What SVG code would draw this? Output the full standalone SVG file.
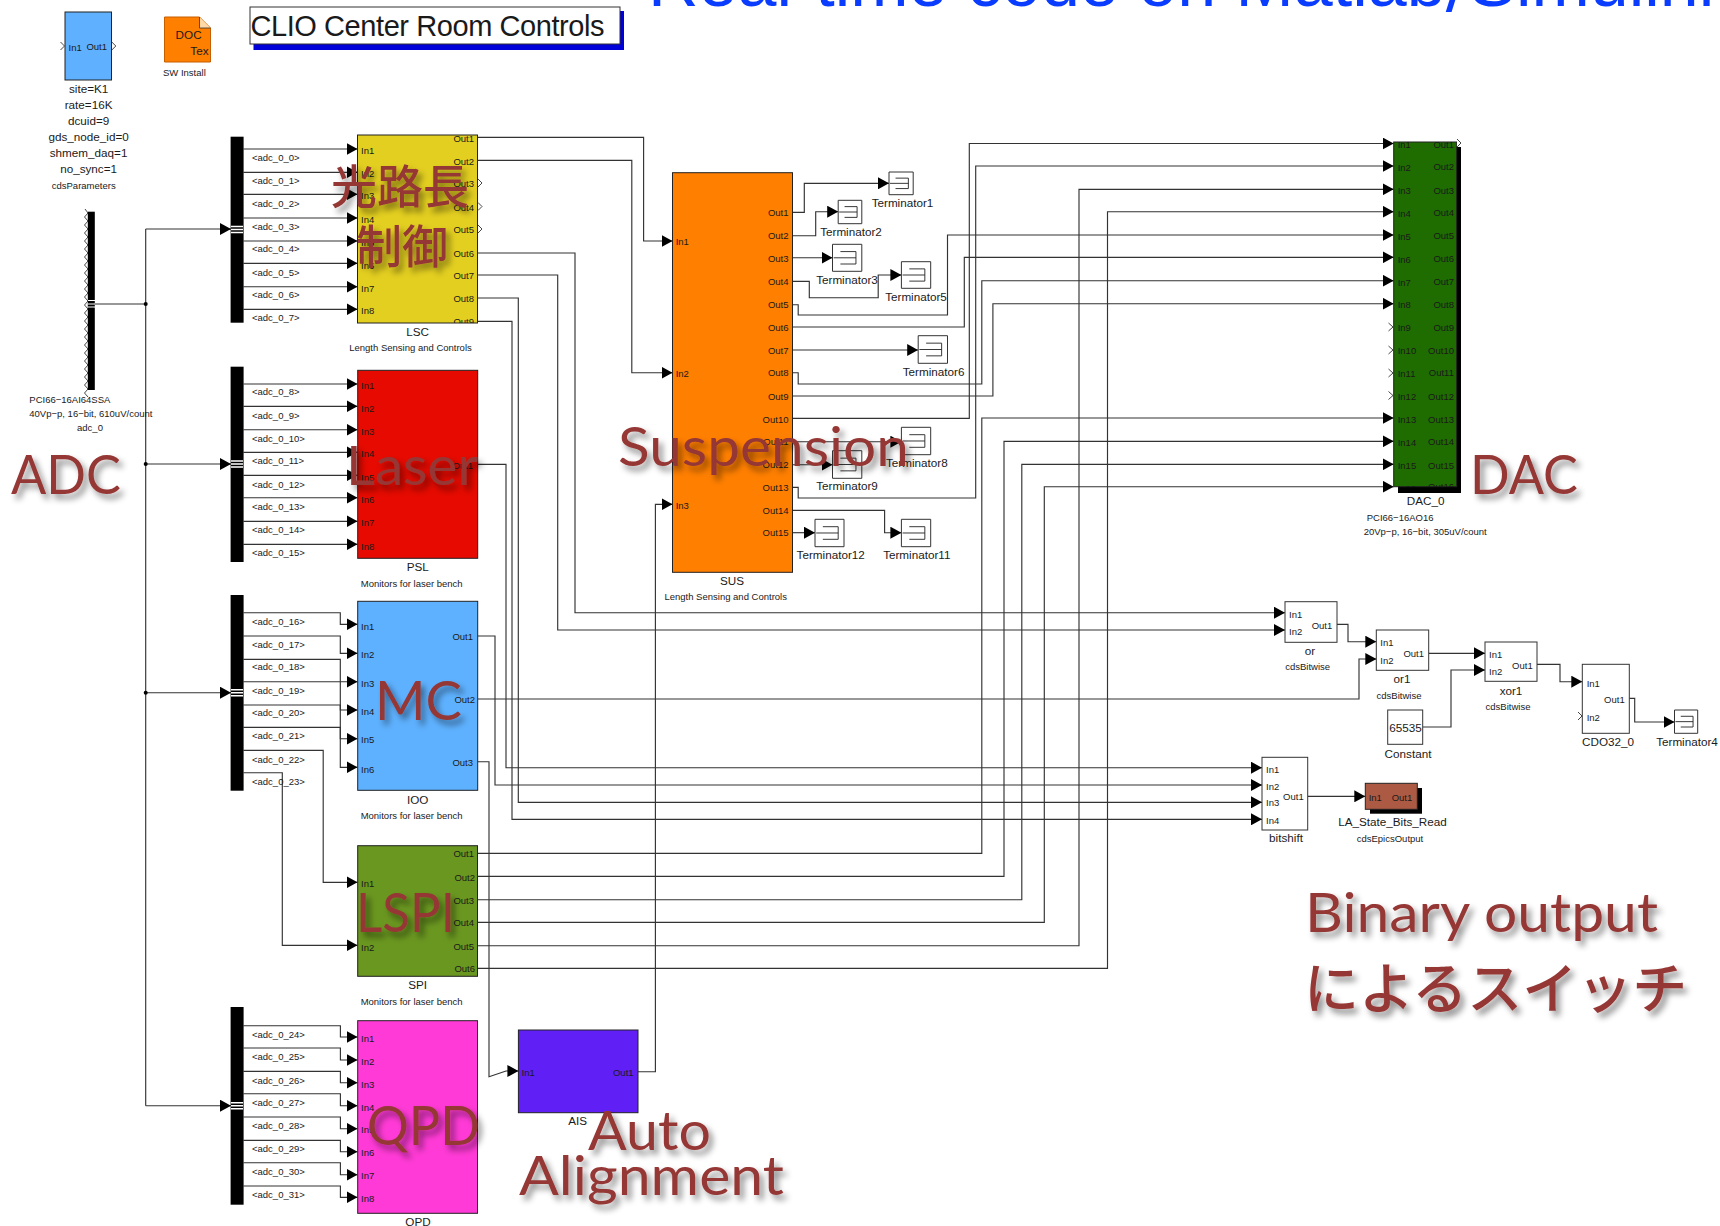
<svg xmlns="http://www.w3.org/2000/svg" width="1720" height="1226" viewBox="0 0 1720 1226">
<style>
text{font-family:"Liberation Sans",Arial,sans-serif;fill:#1a1a1a;dominant-baseline:central}
.s{font-size:9.5px}
.m{font-size:11.7px}
.c{text-anchor:middle}
.r{text-anchor:end}
.b{stroke:#222;stroke-width:1}
.w{fill:#fff;stroke:#333;stroke-width:1}
.k{fill:#000}
.open{fill:none;stroke:#333;stroke-width:.9}
#connectors path{fill:none;stroke:#333;stroke-width:1.15;stroke-linejoin:miter}
#connectors path.a{marker-end:url(#arrow)}
#connectors circle{fill:#000}
.o{font-family:Lato,"Noto Sans",sans-serif;font-size:54px;fill:#953735;dominant-baseline:alphabetic;filter:url(#sh)}
.j{font-family:"Noto Sans CJK JP",sans-serif;font-size:46px;font-weight:500;fill:#953735;dominant-baseline:alphabetic;filter:url(#sh)}
</style>
<defs>
<marker id="arrow" markerUnits="userSpaceOnUse" markerWidth="11" markerHeight="12" refX="11" refY="6" orient="auto"><path d="M0 0L11 6L0 12Z" fill="#000"/></marker>
<filter id="sh" x="-20%" y="-30%" width="150%" height="180%"><feDropShadow dx="4" dy="5" stdDeviation="3" flood-color="#000" flood-opacity=".45"/></filter>
<symbol id="term" viewBox="0 0 100 100" preserveAspectRatio="none" style="overflow:visible">
<rect width="100" height="100" fill="#fff" stroke="#333" stroke-width="1" vector-effect="non-scaling-stroke"/>
<path d="M4 50H80M27 27H80V73H27" fill="none" stroke="#222" stroke-width=".9" vector-effect="non-scaling-stroke"/>
</symbol>
<clipPath id="clipLSC"><rect x="357.5" y="135" width="120" height="188"/></clipPath>
<clipPath id="clipDAC"><rect x="1393.7" y="142" width="63" height="345"/></clipPath>
</defs>
<rect width="1720" height="1226" fill="#fff"/>
<text id="slide-title" x="648" y="6" style="font-size:70px;fill:#0a3cff;dominant-baseline:alphabetic">Real-time code on Matlab<tspan style="font-family:'DejaVu Sans',sans-serif;font-size:70px;fill:#0a3cff">/</tspan>Simulink</text>

<g id="connectors">
<path d="M95 304H145.7M145.7 229V1105.7"/>
<path class="a" d="M145.7 229H231"/><path class="a" d="M145.7 464H231"/><path class="a" d="M145.7 692.7H231"/><path class="a" d="M145.7 1105.7H231"/>
<circle cx="145.7" cy="304" r="2"/><circle cx="145.7" cy="464" r="2"/><circle cx="145.7" cy="692.7" r="2"/>
<path class="a" d="M243.5 149H357.5"/><path class="a" d="M243.5 172.3H357.5"/><path class="a" d="M243.5 194.3H357.5"/><path class="a" d="M243.5 218H357.5"/><path class="a" d="M243.5 241H357.5"/><path class="a" d="M243.5 263.3H357.5"/><path class="a" d="M243.5 286.7H357.5"/><path class="a" d="M243.5 309.3H357.5"/>
<path class="a" d="M243.5 384H357.5"/><path class="a" d="M243.5 406.3H357.5"/><path class="a" d="M243.5 429.7H357.5"/><path class="a" d="M243.5 452.3H357.5"/><path class="a" d="M243.5 475.3H357.5"/><path class="a" d="M243.5 497.7H357.5"/><path class="a" d="M243.5 521.3H357.5"/><path class="a" d="M243.5 544.3H357.5"/>
<path class="a" d="M243.5 612.7H340.3V624.3H357.5"/><path class="a" d="M243.5 636H340.3V653.3H357.5"/><path class="a" d="M243.5 659.3H340.3V767.3H357.5"/><path class="a" d="M243.5 681.7H357.5"/><path class="a" d="M243.5 705H340.3V710H357.5"/><path class="a" d="M243.5 727.3H340.3V738.7H357.5"/><path class="a" d="M243.5 750.3H323.2V882.3H357.5"/><path class="a" d="M243.5 772.7H282.3V945.3H357.5"/>
<path class="a" d="M243.5 1025.7H340.4V1037H357.5"/><path class="a" d="M243.5 1048H340.4V1060H357.5"/><path class="a" d="M243.5 1071.3H340.4V1082.7H357.5"/><path class="a" d="M243.5 1093.7H340.4V1105.7H357.5"/><path class="a" d="M243.5 1117H340.4V1128.7H357.5"/><path class="a" d="M243.5 1140.3H340.4V1151.7H357.5"/><path class="a" d="M243.5 1162.7H340.4V1174.7H357.5"/><path class="a" d="M243.5 1186H340.4V1197.3H357.5"/>
<path class="a" d="M477.5 137.3H643.6V241H672.5"/><path class="a" d="M477.5 160.3H631.8V372.7H672.5"/>
<path class="a" d="M477.5 253H575V612.7H1285"/><path class="a" d="M477.5 275H557.7V630H1285"/>
<path class="a" d="M477.5 298H518.3V802.3H1262"/><path class="a" d="M477.5 321.3H512V819.3H1262"/>
<path class="a" d="M477.7 464.3H506V767.7H1262"/>
<path class="a" d="M477.7 636H495V785H1262"/>
<path class="a" d="M477.7 699H1359V659H1376.3"/>
<path class="a" d="M477.7 761.7H489V1076.7L506 1071H518.4"/>
<path class="a" d="M638 1071.7H655.4V504.3H672.5"/>
<path class="a" d="M792.5 212.3H804.3V183.3H889"/><path class="a" d="M792.5 235.7H815.7V211.7H838.2"/><path class="a" d="M792.5 257.7H832.5"/>
<path class="a" d="M792.5 281.3H809.3V297.7H878.2V275H901.4"/>
<path class="a" d="M792.5 304.7H798.2V315H947.5V235H1393.7"/>
<path class="a" d="M792.5 327H964.3V257.3H1393.7"/>
<path class="a" d="M792.5 350H918.2"/>
<path class="a" d="M792.5 372.7H798.2V384H981.8V280.7H1393.7"/>
<path class="a" d="M792.5 396H992.9V303.7H1393.7"/>
<path class="a" d="M792.5 418.3H969.3V143.5H1393.7"/>
<path class="a" d="M792.5 441.7H901.4"/><path class="a" d="M792.5 464.7H832.5"/>
<path class="a" d="M792.5 487.3H798.2V498H975.7V166H1393.7"/>
<path class="a" d="M792.5 510.3H884.6V532.7H901.4"/><path class="a" d="M792.5 532.7H815"/>
<path class="a" d="M477.5 853.3H981.8V418H1393.7"/><path class="a" d="M477.5 876.3H1004V441.3H1393.7"/><path class="a" d="M477.5 899.7H1021.8V464.3H1393.7"/><path class="a" d="M477.5 922.3H1044.3V486.7H1393.7"/><path class="a" d="M477.5 945.7H1079V189.3H1393.7"/><path class="a" d="M477.5 968.3H1107.5V211.7H1393.7"/>
<path class="a" d="M1337 624.3H1348V641.7H1376.3"/><path class="a" d="M1428.7 653.3H1485"/><path class="a" d="M1422.7 727H1451V670H1485"/><path class="a" d="M1537 664.3H1560V681.7H1582.3"/><path class="a" d="M1629.3 698.3H1634.7V722H1674.5"/><path class="a" d="M1307.7 796.3H1365.3"/>
</g>

<g id="cdsParameters">
<rect class="b" x="65" y="12" width="46.5" height="68" fill="#5fb0ff"/>
<path class="open" d="M60.5 42l4 4-4 4M111.8 42l4 4-4 4"/>
<text class="s" x="68.6" y="47">In1</text><text class="s r" x="107" y="46.7">Out1</text>
<text class="m c" x="88.6" y="88.3">site=K1</text><text class="m c" x="88.6" y="104">rate=16K</text><text class="m c" x="88.6" y="120">dcuid=9</text><text class="m c" x="88.6" y="136.7">gds_node_id=0</text><text class="m c" x="88.6" y="152.3">shmem_daq=1</text><text class="m c" x="88.6" y="168.7">no_sync=1</text>
<text class="s c" x="83.7" y="185.7">cdsParameters</text>
</g>
<g id="SW_Install">
<path d="M164.5 17H199.5L210.5 28V62H164.5Z" fill="#ff7f00" stroke="#c65f00"/><path d="M199.5 17V28H210.5" fill="#ffd9a8" stroke="#333" stroke-width=".8"/>
<text class="m c" x="188.6" y="34.7">DOC</text><text class="m r" x="208.5" y="50">Tex</text>
<text class="s" x="163" y="72">SW Install</text>
</g>
<g id="title-box">
<rect x="253.5" y="11" width="370.5" height="39" fill="#0000d8"/><rect x="250" y="7" width="370" height="37" fill="#fff" stroke="#333" stroke-width="1"/>
<text x="250.5" y="26" style="font-size:29px" textLength="354">CLIO Center Room Controls</text>
</g>
<g id="ADC_0">
<path class="open" d="M85 209l3 4-3.5 4 3.5 4-3.5 4 3.5 4-3.5 4 3.5 4-3.5 4 3.5 4-3.5 4 3.5 4-3.5 4 3.5 4-3.5 4 3.5 4-3.5 4 3.5 4-3.5 4 3.5 4-3.5 4 3.5 4-3.5 4 3.5 4-3.5 4 3.5 4-3.5 4 3.5 4-3.5 4 3.5 4-3.5 4 3.5 4-3.5 4 3.5 4-3.5 4 3.5 4-3.5 4 3.5 4-3.5 4 3.5 4-3.5 4 3.5 4-3.5 4 3.5 4-3.5 4 3.5 4-3.5 4 3.5 4"/>
<rect class="k" x="87.8" y="211.7" width="7" height="178.3"/>
<path d="M88 300.5H95M88 304H95M88 307H95" stroke="#fff" stroke-width="1.2"/>
<text class="s" x="29.3" y="399.3">PCI66−16AI64SSA</text><text class="s" x="29.3" y="413">40Vp−p, 16−bit, 610uV/count</text><text class="s c" x="90" y="427">adc_0</text>
</g>
<g id="mux1"><rect class="k" x="230.6" y="136.7" width="13" height="186"/><path d="M231 226.5H243M231 229.5H243M231 232.500H243" stroke="#fff" stroke-width="1.5"/>
<text class="s" x="252" y="157">&lt;adc_0_0&gt;</text><text class="s" x="252" y="180.7">&lt;adc_0_1&gt;</text><text class="s" x="252" y="203">&lt;adc_0_2&gt;</text><text class="s" x="252" y="226">&lt;adc_0_3&gt;</text><text class="s" x="252" y="248.7">&lt;adc_0_4&gt;</text><text class="s" x="252" y="272">&lt;adc_0_5&gt;</text><text class="s" x="252" y="294.3">&lt;adc_0_6&gt;</text><text class="s" x="252" y="317.7">&lt;adc_0_7&gt;</text></g>
<g id="mux2"><rect class="k" x="230.6" y="366.7" width="13" height="195.3"/><path d="M231 461H243M231 464H243M231 467H243" stroke="#fff" stroke-width="1.5"/>
<text class="s" x="252" y="391.7">&lt;adc_0_8&gt;</text><text class="s" x="252" y="415">&lt;adc_0_9&gt;</text><text class="s" x="252" y="438.3">&lt;adc_0_10&gt;</text><text class="s" x="252" y="460.7">&lt;adc_0_11&gt;</text><text class="s" x="252" y="484">&lt;adc_0_12&gt;</text><text class="s" x="252" y="506.3">&lt;adc_0_13&gt;</text><text class="s" x="252" y="529.7">&lt;adc_0_14&gt;</text><text class="s" x="252" y="552">&lt;adc_0_15&gt;</text></g>
<g id="mux3"><rect class="k" x="230.6" y="595" width="13" height="195.7"/><path d="M231 689.7H243M231 692.7H243M231 695.7H243" stroke="#fff" stroke-width="1.5"/>
<text class="s" x="252" y="621">&lt;adc_0_16&gt;</text><text class="s" x="252" y="644.3">&lt;adc_0_17&gt;</text><text class="s" x="252" y="666.7">&lt;adc_0_18&gt;</text><text class="s" x="252" y="690">&lt;adc_0_19&gt;</text><text class="s" x="252" y="712.3">&lt;adc_0_20&gt;</text><text class="s" x="252" y="735.7">&lt;adc_0_21&gt;</text><text class="s" x="252" y="759">&lt;adc_0_22&gt;</text><text class="s" x="252" y="781.3">&lt;adc_0_23&gt;</text></g>
<g id="mux4"><rect class="k" x="230.6" y="1007" width="13" height="197.7"/><path d="M231 1102.7H243M231 1105.7H243M231 1108.7H243" stroke="#fff" stroke-width="1.5"/>
<text class="s" x="252" y="1034.3">&lt;adc_0_24&gt;</text><text class="s" x="252" y="1056.7">&lt;adc_0_25&gt;</text><text class="s" x="252" y="1080">&lt;adc_0_26&gt;</text><text class="s" x="252" y="1102.3">&lt;adc_0_27&gt;</text><text class="s" x="252" y="1125.7">&lt;adc_0_28&gt;</text><text class="s" x="252" y="1148">&lt;adc_0_29&gt;</text><text class="s" x="252" y="1171.3">&lt;adc_0_30&gt;</text><text class="s" x="252" y="1194.7">&lt;adc_0_31&gt;</text></g>

<g id="LSC"><rect class="b" x="357.5" y="135" width="120" height="188" fill="#e3cf20"/>
<g clip-path="url(#clipLSC)">
<text class="s" x="361" y="150.3">In1</text><text class="s" x="361" y="173.3">In2</text><text class="s" x="361" y="195.7">In3</text><text class="s" x="361" y="219.3">In4</text><text class="s" x="361" y="242">In5</text><text class="s" x="361" y="265">In6</text><text class="s" x="361" y="288">In7</text><text class="s" x="361" y="310.7">In8</text>
<text class="s r" x="474" y="138">Out1</text><text class="s r" x="474" y="161">Out2</text><text class="s r" x="474" y="183.5">Out3</text><text class="s r" x="474" y="207">Out4</text><text class="s r" x="474" y="229.5">Out5</text><text class="s r" x="474" y="253">Out6</text><text class="s r" x="474" y="275.5">Out7</text><text class="s r" x="474" y="298.5">Out8</text><text class="s r" x="474" y="321.5">Out9</text></g>
<path class="open" d="M478 179l4 4-4 4M478 202.5l4 4-4 4M478 225l4 4-4 4"/>
<text class="m c" x="417.5" y="331.7">LSC</text><text class="s c" x="410.5" y="347.7">Length Sensing and Controls</text></g>

<g id="PSL"><rect class="b" x="357.7" y="370.3" width="120" height="188" fill="#e60a00"/>
<text class="s" x="361" y="385.7">In1</text><text class="s" x="361" y="408">In2</text><text class="s" x="361" y="431.3">In3</text><text class="s" x="361" y="453.7">In4</text><text class="s" x="361" y="477">In5</text><text class="s" x="361" y="499.3">In6</text><text class="s" x="361" y="522.7">In7</text><text class="s" x="361" y="546">In8</text><text class="s r" x="473" y="465">Out1</text>
<text class="m c" x="417.7" y="566">PSL</text><text class="s c" x="411.7" y="583">Monitors for laser bench</text></g>

<g id="IOO"><rect class="b" x="357.7" y="601.3" width="120" height="189" fill="#5eb1ff"/>
<text class="s" x="361" y="626">In1</text><text class="s" x="361" y="654.3">In2</text><text class="s" x="361" y="683">In3</text><text class="s" x="361" y="711.3">In4</text><text class="s" x="361" y="739.7">In5</text><text class="s" x="361" y="769">In6</text><text class="s r" x="473" y="636.7">Out1</text><text class="s r" x="475" y="699.3">Out2</text><text class="s r" x="473" y="762.7">Out3</text>
<text class="m c" x="417.7" y="799">IOO</text><text class="s c" x="411.6" y="815">Monitors for laser bench</text></g>

<g id="SPI"><rect class="b" x="357.7" y="845.7" width="119.8" height="130.6" fill="#6a9720"/>
<text class="s" x="361" y="883.3">In1</text><text class="s" x="361" y="947">In2</text><text class="s r" x="474" y="853.3">Out1</text><text class="s r" x="475" y="877.3">Out2</text><text class="s r" x="474" y="900.7">Out3</text><text class="s r" x="474" y="922.7">Out4</text><text class="s r" x="474" y="946">Out5</text><text class="s r" x="475" y="968.3">Out6</text>
<text class="m c" x="417.7" y="984">SPI</text><text class="s c" x="411.6" y="1001.3">Monitors for laser bench</text></g>

<g id="QPD"><rect class="b" x="357.7" y="1020.7" width="119.8" height="192.6" fill="#ff3ad6"/>
<text class="s" x="361" y="1038.7">In1</text><text class="s" x="361" y="1061.7">In2</text><text class="s" x="361" y="1084">In3</text><text class="s" x="361" y="1107">In4</text><text class="s" x="361" y="1129.7">In5</text><text class="s" x="361" y="1152.7">In6</text><text class="s" x="361" y="1175.7">In7</text><text class="s" x="361" y="1198.7">In8</text>
<text class="m c" x="418" y="1221">QPD</text></g>

<g id="AIS"><rect class="b" x="518.4" y="1030" width="119.6" height="82.7" fill="#6020f5"/>
<text class="s" x="521.5" y="1072.7">In1</text><text class="s r" x="633.6" y="1072">Out1</text><text class="m c" x="577.7" y="1120">AIS</text></g>

<g id="SUS"><rect class="b" x="672.5" y="172.7" width="120" height="399.6" fill="#ff7f00"/>
<text class="s" x="675.7" y="241.7">In1</text><text class="s" x="675.7" y="373.3">In2</text><text class="s" x="675.7" y="505.3">In3</text>
<text class="s r" x="788.5" y="212.3">Out1</text><text class="s r" x="788.5" y="235.7">Out2</text><text class="s r" x="788.5" y="258.7">Out3</text><text class="s r" x="788.5" y="281.3">Out4</text><text class="s r" x="788.5" y="304.7">Out5</text><text class="s r" x="788.5" y="327">Out6</text><text class="s r" x="788.5" y="350.3">Out7</text><text class="s r" x="788.5" y="372.7">Out8</text><text class="s r" x="788.5" y="396">Out9</text><text class="s r" x="788.5" y="419">Out10</text><text class="s r" x="788.5" y="441.7">Out11</text><text class="s r" x="788.5" y="464.7">Out12</text><text class="s r" x="788.5" y="487.3">Out13</text><text class="s r" x="788.5" y="510.3">Out14</text><text class="s r" x="788.5" y="532.7">Out15</text>
<text class="m c" x="732" y="580">SUS</text><text class="s c" x="725.7" y="596.7">Length Sensing and Controls</text></g>

<g id="Terminator1"><use href="#term" x="889" y="172" width="24.2" height="22.7"/><text class="m c" x="902.5" y="202.7">Terminator1</text></g>
<g id="Terminator2"><use href="#term" x="838.2" y="200.3" width="23.6" height="23.4"/><text class="m c" x="851" y="231.3">Terminator2</text></g>
<g id="Terminator3"><use href="#term" x="832.5" y="244.3" width="29.3" height="27"/><text class="m c" x="847" y="279.7">Terminator3</text></g>
<g id="Terminator5"><use href="#term" x="901.4" y="261.7" width="29.3" height="26.6"/><text class="m c" x="916" y="296.7">Terminator5</text></g>
<g id="Terminator6"><use href="#term" x="918.2" y="335.7" width="29.3" height="27.6"/><text class="m c" x="933.6" y="371">Terminator6</text></g>
<g id="Terminator8"><use href="#term" x="901.4" y="427.3" width="29.3" height="27.4"/><text class="m c" x="916.8" y="462.3">Terminator8</text></g>
<g id="Terminator9"><use href="#term" x="832.5" y="450.7" width="29.3" height="27.6"/><text class="m c" x="847" y="485.7">Terminator9</text></g>
<g id="Terminator11"><use href="#term" x="901.4" y="519.3" width="29.3" height="27.4"/><text class="m c" x="916.8" y="554.7">Terminator11</text></g>
<g id="Terminator12"><use href="#term" x="815" y="519.3" width="29" height="27.4"/><text class="m c" x="830.7" y="554.7">Terminator12</text></g>

<g id="DAC_0"><rect class="k" x="1398" y="147" width="63" height="346"/><rect class="b" x="1393.7" y="142" width="63" height="344.7" fill="#1f6d00"/>
<g clip-path="url(#clipDAC)">
<text class="s" x="1397.7" y="144.3">In1</text><text class="s" x="1397.7" y="167.3">In2</text><text class="s" x="1397.7" y="190.7">In3</text><text class="s" x="1397.7" y="213.3">In4</text><text class="s" x="1397.7" y="236.3">In5</text><text class="s" x="1397.7" y="259">In6</text><text class="s" x="1397.7" y="282">In7</text><text class="s" x="1397.7" y="304.7">In8</text><text class="s" x="1397.7" y="327.7">In9</text><text class="s" x="1397.7" y="350.7">In10</text><text class="s" x="1397.7" y="373.7">In11</text><text class="s" x="1397.7" y="396.7">In12</text><text class="s" x="1397.7" y="419.3">In13</text><text class="s" x="1397.7" y="442.3">In14</text><text class="s" x="1397.7" y="465.7">In15</text><text class="s" x="1397.7" y="488.3">In16</text>
<text class="s r" x="1454" y="144.3">Out1</text><text class="s r" x="1454" y="166.7">Out2</text><text class="s r" x="1454" y="190">Out3</text><text class="s r" x="1454" y="212.7">Out4</text><text class="s r" x="1454" y="235.7">Out5</text><text class="s r" x="1454" y="258.7">Out6</text><text class="s r" x="1454" y="281.3">Out7</text><text class="s r" x="1454" y="304.3">Out8</text><text class="s r" x="1454" y="327">Out9</text><text class="s r" x="1454" y="350.3">Out10</text><text class="s r" x="1454" y="372.7">Out11</text><text class="s r" x="1454" y="396">Out12</text><text class="s r" x="1454" y="419.3">Out13</text><text class="s r" x="1454" y="441.7">Out14</text><text class="s r" x="1454" y="465">Out15</text><text class="s r" x="1454" y="486.7">Out16</text></g>
<path class="open" d="M1388.5 323l4.5 4-4.5 4M1388.5 346l4.5 4-4.5 4M1388.5 369l4.5 4-4.5 4M1388.5 391.5l4.5 4-4.5 4"/><path d="M1457 139l4 4-4 4" fill="#fff" stroke="#333" stroke-width=".9"/>
<text class="m c" x="1425.7" y="500">DAC_0</text><text class="s" x="1366.7" y="517">PCI66−16AO16</text><text class="s" x="1363.7" y="531">20Vp−p, 16−bit, 305uV/count</text></g>

<g id="or"><rect class="w" x="1285" y="601.7" width="52" height="40.6"/><text class="s" x="1289" y="614">In1</text><text class="s" x="1289" y="631.7">In2</text><text class="s r" x="1332.3" y="625.3">Out1</text><text class="m c" x="1310" y="650">or</text><text class="s c" x="1307.7" y="666.7">cdsBitwise</text></g>
<g id="or1"><rect class="w" x="1376.3" y="630" width="52.4" height="40.3"/><text class="s" x="1380.3" y="642.3">In1</text><text class="s" x="1380.3" y="660">In2</text><text class="s r" x="1424" y="653.7">Out1</text><text class="m c" x="1402" y="678">or1</text><text class="s c" x="1399" y="695">cdsBitwise</text></g>
<g id="xor1"><rect class="w" x="1485" y="642" width="52" height="39.3"/><text class="s" x="1489" y="654.7">In1</text><text class="s" x="1489" y="671.7">In2</text><text class="s r" x="1532.7" y="665">Out1</text><text class="m c" x="1511" y="690">xor1</text><text class="s c" x="1508" y="706.7">cdsBitwise</text></g>
<g id="Constant"><rect class="w" x="1387.7" y="710" width="35" height="34.3"/><text class="m c" x="1405.5" y="727">65535</text><text class="m c" x="1408" y="753">Constant</text></g>
<g id="CDO32_0"><rect class="w" x="1582.3" y="664.3" width="47" height="69"/><text class="s" x="1586.7" y="683.3">In1</text><text class="s" x="1586.7" y="717.3">In2</text><text class="s r" x="1624.7" y="699.3">Out1</text><path class="open" d="M1578 712l4 4-4 4"/><text class="m c" x="1608" y="741">CDO32_0</text></g>
<g id="Terminator4"><use href="#term" x="1674.5" y="710" width="23.2" height="23.3"/><text class="m c" x="1687" y="741">Terminator4</text></g>
<g id="bitshift"><rect class="w" x="1262" y="757.3" width="45.7" height="72.7"/><text class="s" x="1266" y="769.3">In1</text><text class="s" x="1266" y="786.7">In2</text><text class="s" x="1266" y="802.7">In3</text><text class="s" x="1266" y="820">In4</text><text class="s r" x="1303.7" y="796.7">Out1</text><text class="m c" x="1286" y="837.7">bitshift</text></g>
<g id="LA_State_Bits_Read"><rect class="k" x="1370" y="788" width="52" height="25.7"/><rect class="b" x="1365.3" y="783.3" width="52" height="26" fill="#ad5a45"/><text class="s" x="1368.7" y="797.3">In1</text><text class="s r" x="1412.3" y="797">Out1</text><text class="m c" x="1392.5" y="821">LA_State_Bits_Read</text><text class="s c" x="1390" y="838">cdsEpicsOutput</text></g>

<g id="annotations">
<text class="o" x="11" y="494.3" textLength="110" lengthAdjust="spacingAndGlyphs">ADC</text>
<text class="o" x="1470" y="494" textLength="108" lengthAdjust="spacingAndGlyphs">DAC</text>
<text class="o" x="346" y="485" textLength="132" lengthAdjust="spacingAndGlyphs">Laser</text>
<text class="o" x="618" y="465.7" textLength="291" lengthAdjust="spacingAndGlyphs">Suspension</text>
<text class="o" x="375" y="720" textLength="87" lengthAdjust="spacingAndGlyphs">MC</text>
<text class="o" x="356" y="931.7" textLength="99" lengthAdjust="spacingAndGlyphs">LSPI</text>
<text class="o" x="367" y="1145" textLength="113" lengthAdjust="spacingAndGlyphs">QPD</text>
<text class="o" x="588" y="1150" textLength="123" lengthAdjust="spacingAndGlyphs">Auto</text>
<text class="o" x="519" y="1195" textLength="265" lengthAdjust="spacingAndGlyphs">Alignment</text>
<text class="o" x="1305" y="931.7" textLength="353" lengthAdjust="spacingAndGlyphs">Binary output</text>
<text class="j" style="font-size:55px" x="1304" y="1008">によるスイッチ</text>
<text class="j" x="331" y="203">光路長</text>
<text class="j" x="356" y="263">制御</text>
</g>
</svg>
